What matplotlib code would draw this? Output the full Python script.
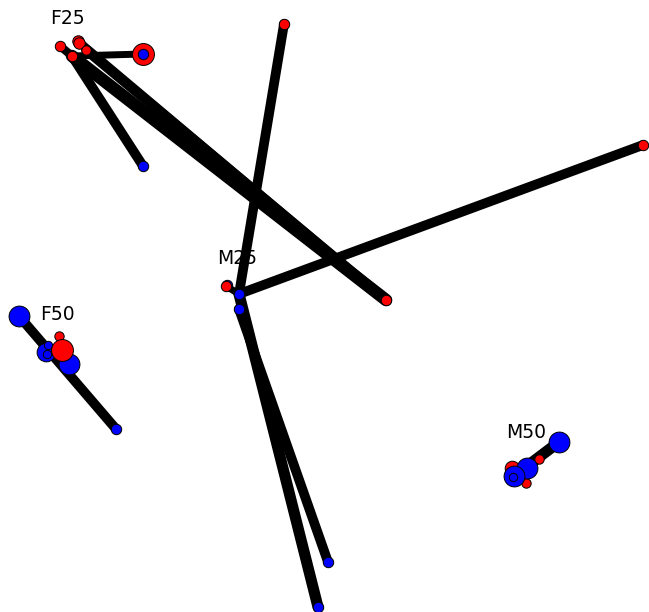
import matplotlib
matplotlib.use("Agg")
import matplotlib.pyplot as plt

# node positions (pixel-like layout coords), colours, radii
node_x = [72, 60, 78, 79, 86, 143, 143, 143, 386,
          227, 226, 239, 239, 284, 643, 328, 318,
          19, 46, 48, 47, 59, 69, 62, 116,
          512, 526, 539, 559, 527, 514, 513]
node_y = [56, 46, 41, 43, 50, 54, 54, 166, 300,
          285, 286, 294, 309, 24, 145, 562, 607,
          316, 352, 345, 354, 336, 364, 350, 429,
          468, 483, 459, 442, 468, 476, 477]
node_c = ['r', 'r', 'r', 'r', 'r', 'r', 'b', 'b', 'r',
          'b', 'r', 'b', 'b', 'r', 'r', 'b', 'b',
          'b', 'b', 'b', 'b', 'r', 'b', 'r', 'b',
          'r', 'r', 'r', 'b', 'b', 'b', 'b']
node_r = [5, 5, 5.5, 5.5, 4.5, 10.5, 5, 5, 5,
          5, 5, 5, 5, 5, 5, 5, 5,
          10, 9, 4, 4, 4.5, 10, 10.5, 5,
          7, 4.5, 4.5, 10, 10, 10, 4]

# edges: (source, target, width)
edges = [(0, 5, 5), (0, 7, 7), (0, 8, 9), (4, 8, 7), (2, 8, 6), (1, 0, 6),
         (11, 13, 7), (11, 14, 7), (10, 11, 5), (11, 16, 8), (12, 15, 7),
         (17, 24, 7), (30, 28, 8)]

labels = ['F25', 'F50', 'M25', 'M50']
label_x = [67, 57, 237, 526]
label_y = [19, 314, 258, 432]

colors = {'r': 'red', 'b': 'blue'}

fig = plt.figure(figsize=(6.49, 6.12), dpi=100)
ax = fig.add_axes([0, 0, 1, 1])
ax.set_xlim(0, 649)
ax.set_ylim(612, 0)
ax.axis('off')

for s, t, w in edges:
    ax.plot([node_x[s], node_x[t]], [node_y[s], node_y[t]], color='black',
            linewidth=w, solid_capstyle='round', zorder=1)

for x, y, c, r in zip(node_x, node_y, node_c, node_r):
    ax.scatter(x, y, s=(1.5 * r) ** 2, color=colors[c], edgecolors='black',
               linewidths=0.7, zorder=2)

for lab, x, y in zip(labels, label_x, label_y):
    ax.text(x, y, lab, fontsize=13.5, ha='center', va='center', zorder=3)

fig.savefig('out.png', dpi=100)
